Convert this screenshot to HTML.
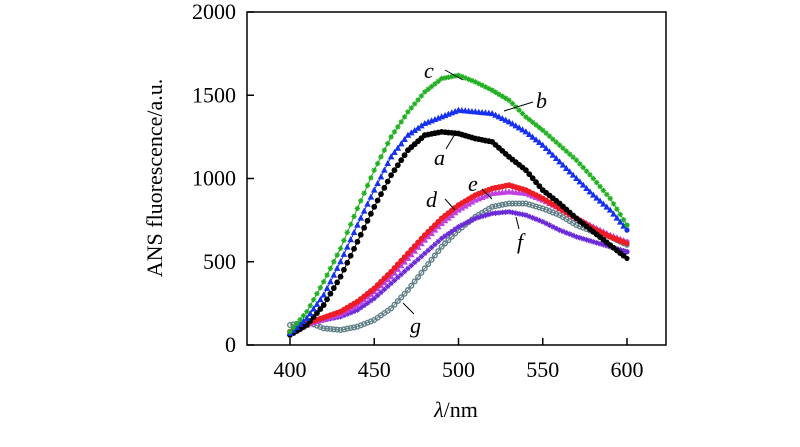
<!DOCTYPE html>
<html><head><meta charset="utf-8"><style>
body{margin:0;background:#fff}
svg text{font-family:"Liberation Serif",serif;fill:#000}
</style></head><body>
<svg id="chart" width="800" height="442" viewBox="0 0 800 442" xmlns="http://www.w3.org/2000/svg">
<rect x="247" y="12" width="419" height="333" fill="none" stroke="#000" stroke-width="1.5"/>
<g id="axes"></g>
<g id="series"></g>
<text transform="translate(162,178) rotate(-90)" text-anchor="middle" font-size="22">ANS fluorescence/a.u.</text>
<text x="456" y="417" text-anchor="middle" font-size="22"><tspan font-style="italic">λ</tspan>/nm</text>
<g id="labels" font-size="22" font-style="italic" stroke="#000" stroke-width="1">
<line x1="445" y1="70" x2="463" y2="80"/><text x="424" y="78" stroke="none">c</text>
<line x1="533" y1="102" x2="504" y2="111"/><text x="536" y="108" stroke="none">b</text>
<line x1="446" y1="149" x2="455" y2="134"/><text x="434" y="165" stroke="none">a</text>
<line x1="445" y1="199" x2="455" y2="210"/><text x="426" y="207" stroke="none">d</text>
<line x1="482" y1="189" x2="492" y2="199"/><text x="468" y="191" stroke="none">e</text>
<line x1="519" y1="229" x2="516" y2="217"/><text x="517" y="249" stroke="none">f</text>
<line x1="414" y1="314" x2="403" y2="303"/><text x="410" y="333" stroke="none">g</text>
</g>
</svg>
<script>
const wavelengths=[400,410,420,430,440,450,460,470,480,490,500,510,520,530,540,550,560,570,580,590,600];
const seriesA=[60,120,240,410,620,830,1020,1170,1260,1280,1270,1240,1220,1130,1050,930,850,760,680,600,520];
const seriesB=[70,160,300,500,720,930,1130,1260,1330,1370,1410,1400,1390,1340,1280,1200,1100,1000,900,810,690];
const seriesC=[80,200,380,580,820,1050,1250,1400,1520,1600,1620,1580,1530,1470,1370,1290,1200,1110,1000,880,720];
const seriesD=[80,130,165,200,260,340,440,550,660,760,840,900,940,960,930,880,820,760,700,650,610];
const seriesE=[70,120,155,185,240,320,410,520,630,730,810,870,910,920,910,870,820,760,710,660,620];
const seriesF=[80,130,150,170,210,280,370,460,550,640,710,760,790,800,780,740,690,650,620,590,560];
const seriesG=[120,140,100,90,110,150,220,330,460,590,690,770,830,850,850,820,780,720,680,650,600];
const xTicks=[400,450,500,550,600];
const yTicks=[0,500,1000,1500,2000];
const NS="http://www.w3.org/2000/svg";
const xS=v=>290+(v-400)*(627-290)/200;
const yS=v=>345-v*(333/2000);
function mk(t,a,p){const e=document.createElementNS(NS,t);for(const k in a)e.setAttribute(k,a[k]);p.appendChild(e);return e;}
const axes=document.getElementById('axes');
xTicks.forEach(t=>{
 const l=mk('line',{x1:xS(t),x2:xS(t),y1:345,y2:338,stroke:'#000','stroke-width':1.5},axes);
 
 
 const tx=mk('text',{x:xS(t),y:377,'text-anchor':'middle','font-size':22},axes);tx.textContent=t;
 
 
});
yTicks.forEach(t=>{
 const l=mk('line',{x1:247,x2:254,y1:yS(t),y2:yS(t),stroke:'#000','stroke-width':1.5},axes);
 
 
 const tx=mk('text',{x:236,y:yS(t)+7,'text-anchor':'end','font-size':22},axes);tx.textContent=t;
 
 
});
const sg=document.getElementById('series');
const defs=[
 ['series-g',seriesG,'#5f7f86','ring'],
 ['series-f',seriesF,'#6a2ad8','star'],
 ['series-e',seriesE,'#c040e0','tri'],
 ['series-d',seriesD,'#ee1c24','dot'],
 ['series-a',seriesA,'#000','dot'],
 ['series-b',seriesB,'#1530f0','tri'],
 ['series-c',seriesC,'#22b022','star']];
defs.forEach(([name,vals,col,shape])=>{
 const g=mk('g',{},sg);
 
 
 mk('polyline',{points:wavelengths.map((w,i)=>xS(w)+','+yS(vals[i])).join(' '),fill:'none',stroke:col,'stroke-width':1},g);
 for(let i=0;i<wavelengths.length-1;i++){
  for(let k=0;k<5;k++){
   const f=k/5;
   const x=xS(wavelengths[i])+(xS(wavelengths[i+1])-xS(wavelengths[i]))*f;
   const y=yS(vals[i])+(yS(vals[i+1])-yS(vals[i]))*f;
   if(shape==='dot')mk('circle',{cx:x,cy:y,r:2.9,fill:col},g);
   else if(shape==='ring')mk('circle',{cx:x,cy:y,r:2.3,fill:'none',stroke:col,'stroke-width':1.4},g);
   else if(shape==='tri')mk('polygon',{points:`${x},${y-3.6} ${x-3.3},${y+2.5} ${x+3.3},${y+2.5}`,fill:col},g);
   else mk('path',{d:`M${x-2.7},${y}h5.4M${x},${y-2.7}v5.4M${x-1.9},${y-1.9}l3.8,3.8M${x-1.9},${y+1.9}l3.8,-3.8`,stroke:col,'stroke-width':1.2},g);
  }
 }
 const x=xS(600),y=yS(vals[vals.length-1]);
 mk('circle',{cx:x,cy:y,r:2.6,fill:col},g);
});
</script>
</body></html>
